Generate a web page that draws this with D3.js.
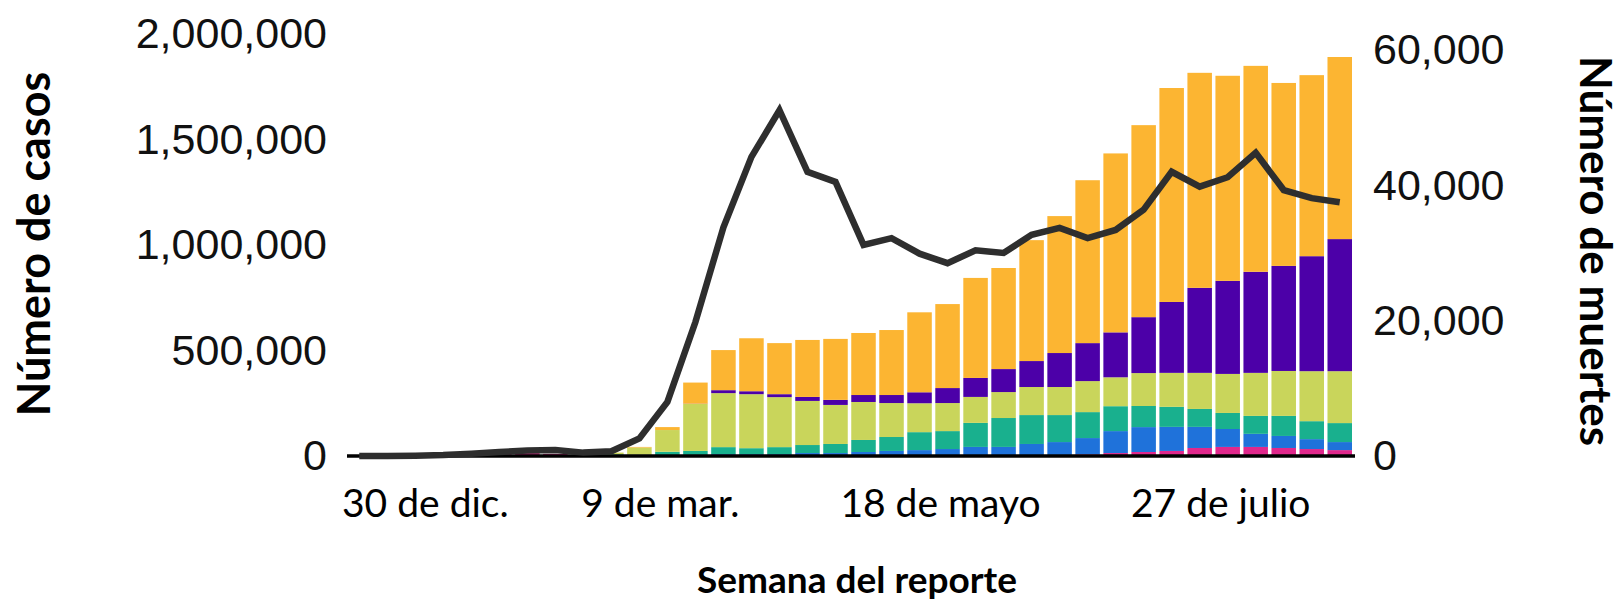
<!DOCTYPE html>
<html lang="es">
<head>
<meta charset="utf-8">
<script src="https://cdn.jsdelivr.net/npm/d3@7"></script>
<style>
  html, body { margin: 0; background: #fff; }
  svg { display: block; }
</style>
</head>
<body>
<svg id="chart" width="1624" height="600"></svg>
<script>
// weekly report periods (week start)
const weeks = [
  '2019-12-30', '2020-01-06', '2020-01-13', '2020-01-20', '2020-01-27', '2020-02-03',
  '2020-02-10', '2020-02-17', '2020-02-24', '2020-03-02', '2020-03-09', '2020-03-16',
  '2020-03-23', '2020-03-30', '2020-04-06', '2020-04-13', '2020-04-20', '2020-04-27',
  '2020-05-04', '2020-05-11', '2020-05-18', '2020-05-25', '2020-06-01', '2020-06-08',
  '2020-06-15', '2020-06-22', '2020-06-29', '2020-07-06', '2020-07-13', '2020-07-20',
  '2020-07-27', '2020-08-03', '2020-08-10', '2020-08-17', '2020-08-24', '2020-08-31'
];

const tickWeeks = ['2019-12-30', '2020-03-09', '2020-05-18', '2020-07-27'];
const tickLabels = ['30 de dic.', '9 de mar.', '18 de mayo', '27 de julio'];

const caseTicks = [0, 500000, 1000000, 1500000, 2000000];
const deathTicks = [0, 20000, 40000, 60000];

// weekly cases by region, stacked bottom -> top
const westernPacific = [0, 100, 300, 2500, 8000, 12000, 14000, 10000, 5000, 5000,
  2000, 2000, 2000, 2000, 2000, 2000, 2000, 2000, 2000, 2000, 2000, 2000,
  3000, 3000, 4000, 5000, 8000, 14000, 19000, 24000, 38000, 43000, 43000, 38000, 33000, 28000];
const africa = [0, 0, 0, 0, 0, 0, 0, 0, 0, 0,
  0, 1000, 3000, 7000, 7000, 7000, 12000, 12000, 17000, 22000, 26000, 31000,
  40000, 40000, 53000, 61000, 77000, 104000, 118000, 114000, 100000, 85000, 62000, 57000, 47000, 38000];
const easternMed = [0, 0, 0, 0, 0, 0, 0, 0, 500, 3000,
  4000, 17000, 19000, 33000, 28000, 33000, 38000, 43000, 57000, 66000, 85000, 85000,
  114000, 137000, 137000, 128000, 123000, 118000, 100000, 95000, 85000, 76000, 85000, 95000, 85000, 90000];
const europe = [0, 0, 0, 0, 0, 0, 0, 100, 1000, 8000,
  34000, 103000, 223000, 256000, 256000, 237000, 209000, 185000, 180000, 161000, 137000, 133000,
  123000, 123000, 133000, 133000, 147000, 137000, 156000, 161000, 171000, 185000, 204000, 213000, 237000, 246000];
const southEastAsia = [0, 0, 0, 0, 0, 0, 0, 0, 0, 0,
  0, 0, 1000, 14000, 14000, 14000, 19000, 24000, 33000, 38000, 52000, 71000,
  90000, 109000, 123000, 161000, 180000, 213000, 265000, 336000, 403000, 441000, 479000, 498000, 545000, 626000];
const americas = [0, 0, 0, 0, 0, 0, 0, 0, 0, 300,
  3000, 14000, 100000, 190000, 251000, 242000, 270000, 289000, 294000, 308000, 379000, 398000,
  474000, 479000, 573000, 649000, 772000, 848000, 910000, 1014000, 1019000, 972000, 976000, 867000, 858000, 863000];

// weekly global deaths (right axis)
const deaths = [0, 0, 20, 130, 350, 600, 800, 900, 500, 700,
  2600, 8000, 19800, 33800, 44200, 51100, 42000, 40500, 31200, 32200, 29900, 28500,
  30400, 30000, 32700, 33700, 32200, 33400, 36400, 42000, 39800, 41200, 44800, 39300, 38100, 37500];

const regionKeys = ['westernPacific', 'africa', 'easternMed', 'europe', 'southEastAsia', 'americas'];
const regionColors = {
  westernPacific: '#e0288c',
  africa: '#1f72da',
  easternMed: '#19b08e',
  europe: '#c9d55b',
  southEastAsia: '#4c00a8',
  americas: '#fcb532'
};

const table = weeks.map((week, i) => ({
  week,
  westernPacific: westernPacific[i],
  africa: africa[i],
  easternMed: easternMed[i],
  europe: europe[i],
  southEastAsia: southEastAsia[i],
  americas: americas[i]
}));

const numberFont = '"Liberation Sans", Arial, sans-serif';
const labelFont = 'Lato, "Open Sans", sans-serif';

const svg = d3.select('#chart');

const x = d3.scaleBand()
  .domain(weeks)
  .range([347, 1352])
  .paddingInner(0.125)
  .paddingOuter(0);
const yCases = d3.scaleLinear().domain([0, 2000000]).range([456, 34]);
const yDeaths = d3.scaleLinear().domain([0, 60000]).range([456, 50]);

// stacked bars
const series = d3.stack().keys(regionKeys)(table);
svg.append('g')
  .selectAll('g')
  .data(series)
  .join('g')
  .attr('fill', (d) => regionColors[d.key])
  .selectAll('rect')
  .data((d) => d.filter((p) => p[1] > p[0]))
  .join('rect')
  .attr('x', (d) => x(d.data.week))
  .attr('y', (d) => yCases(d[1]))
  .attr('width', x.bandwidth())
  .attr('height', (d) => yCases(d[0]) - yCases(d[1]));

// baseline
svg.append('line')
  .attr('x1', x.range()[0])
  .attr('x2', x.range()[1] + 3)
  .attr('y1', yCases(0))
  .attr('y2', yCases(0))
  .attr('stroke', '#000')
  .attr('stroke-width', 3.5);

// deaths line
const deathLine = d3.line()
  .x((d, i) => x(weeks[i]) + x.bandwidth() / 2)
  .y((d) => yDeaths(d));
svg.append('path')
  .datum(deaths)
  .attr('d', deathLine)
  .attr('fill', 'none')
  .attr('stroke', '#2e2e2e')
  .attr('stroke-width', 6.5)
  .attr('stroke-linejoin', 'miter');

// left axis: cases
svg.append('g')
  .attr('transform', `translate(${x.range()[0]},0)`)
  .call(d3.axisLeft(yCases).tickValues(caseTicks).tickFormat(d3.format(',')).tickSize(0).tickPadding(20))
  .call((g) => g.select('.domain').remove())
  .call((g) => g.selectAll('text')
    .attr('font-family', numberFont)
    .attr('font-size', 43)
    .attr('fill', '#111'));

// right axis: deaths
svg.append('g')
  .attr('transform', `translate(${x.range()[1] + 3},0)`)
  .call(d3.axisRight(yDeaths).tickValues(deathTicks).tickFormat(d3.format(',')).tickSize(0).tickPadding(18))
  .call((g) => g.select('.domain').remove())
  .call((g) => g.selectAll('text')
    .attr('font-family', numberFont)
    .attr('font-size', 43)
    .attr('fill', '#111'));

// date labels, kept from running past the left end of the axis
const xLabels = svg.append('g')
  .selectAll('text')
  .data(tickWeeks)
  .join('text')
  .attr('x', (d) => x(d) + x.bandwidth() / 2 + 21)
  .attr('y', 517)
  .attr('text-anchor', 'middle')
  .attr('font-family', labelFont)
  .attr('font-size', 39)
  .attr('fill', '#000')
  .text((d, i) => tickLabels[i]);
xLabels.each(function () {
  const box = this.getBBox();
  const minX = x.range()[0] - 5;
  if (box.x < minX) {
    d3.select(this).attr('x', +this.getAttribute('x') + (minX - box.x));
  }
});

// axis titles
svg.append('text')
  .attr('transform', 'translate(50,244) rotate(-90)')
  .attr('text-anchor', 'middle')
  .attr('font-family', labelFont)
  .attr('font-weight', 700)
  .attr('font-size', 45)
  .text('Número de casos');

svg.append('text')
  .attr('transform', 'translate(1580,251) rotate(90)')
  .attr('text-anchor', 'middle')
  .attr('font-family', labelFont)
  .attr('font-weight', 700)
  .attr('font-size', 44)
  .text('Número de muertes');

svg.append('text')
  .attr('x', 857)
  .attr('y', 593)
  .attr('text-anchor', 'middle')
  .attr('font-family', labelFont)
  .attr('font-weight', 700)
  .attr('font-size', 37)
  .text('Semana del reporte');
</script>
</body>
</html>
